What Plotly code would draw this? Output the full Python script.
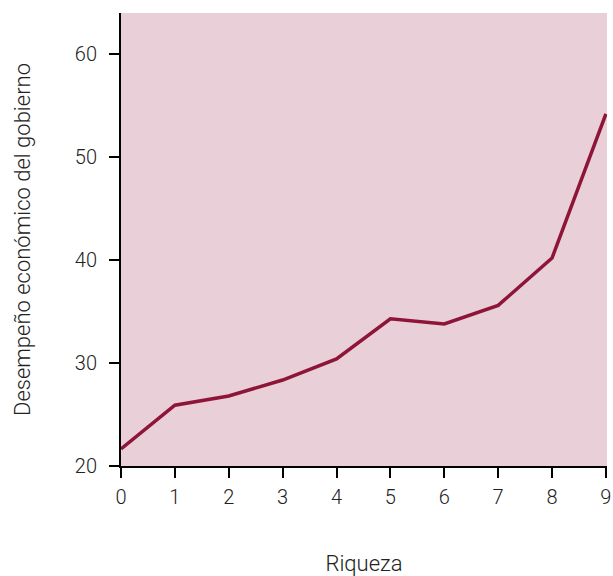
import plotly.graph_objects as go

riqueza = [0, 1, 2, 3, 4, 5, 6, 7, 8, 9]
desempeno = [21.65, 25.9, 26.8, 28.35, 30.4, 34.3, 33.8, 35.6, 40.2, 54.2]
x_ticks = [0, 1, 2, 3, 4, 5, 6, 7, 8, 9]
y_ticks = [20, 30, 40, 50, 60]

font_family = "Roboto, Liberation Sans, Arial, sans-serif"
text_color = "#222222"
fsize = 20
tsize = 22

fig = go.Figure()
fig.add_trace(go.Scatter(
    x=riqueza, y=desempeno, mode="lines",
    line=dict(color="#8e1538", width=3.5),
    hoverinfo="skip", showlegend=False, cliponaxis=False,
))

fig.update_layout(
    width=613, height=576,
    margin=dict(l=121, r=6, t=13, b=110, autoexpand=False),
    paper_bgcolor="white",
    plot_bgcolor="#e8cfd8",
    font=dict(family=font_family, size=fsize, color=text_color, weight=300),
    xaxis=dict(
        range=[0, 9.02], tickvals=x_ticks, ticktext=[str(v) for v in x_ticks],
        showgrid=False, zeroline=False, showline=True, linecolor="black", linewidth=2,
        ticks="outside", ticklen=10, tickwidth=2, tickcolor="black", automargin=False,
        ticklabelstandoff=2,
        tickfont=dict(size=fsize, color=text_color, weight=300),
        title=dict(text="Riqueza", standoff=52, font=dict(size=tsize, color=text_color, weight=300)),
    ),
    yaxis=dict(
        range=[20, 64], tickvals=y_ticks, ticktext=[str(v) for v in y_ticks],
        showgrid=False, zeroline=False, showline=True, linecolor="black", linewidth=2,
        ticks="outside", ticklen=10, tickwidth=2, tickcolor="black", automargin=False,
        ticklabelstandoff=8,
        tickfont=dict(size=fsize, color=text_color, weight=300),
        title=dict(text="Desempeño económico del gobierno", standoff=38, font=dict(size=tsize, color=text_color, weight=300)),
    ),
)

fig.write_html(
    "out.html",
    config={"displayModeBar": False, "staticPlot": True},
    post_script="document.body.style.margin='0';document.body.style.overflow='hidden';",
)
